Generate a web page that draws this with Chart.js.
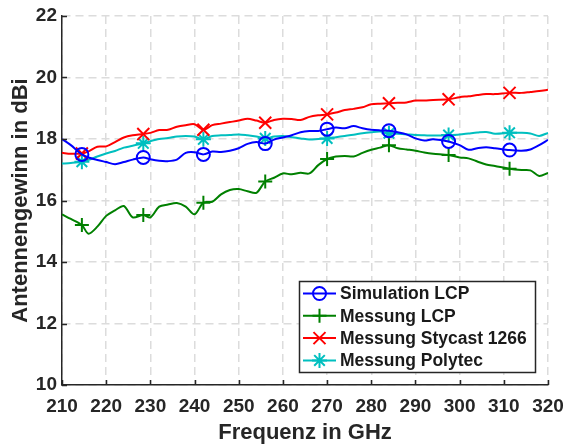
<!DOCTYPE html>
<html>
<head>
<meta charset="utf-8">
<script src="https://cdn.jsdelivr.net/npm/chart.js@4.4.1/dist/chart.umd.min.js"></script>
<style>
  html, body { margin: 0; padding: 0; background: #fff; }
</style>
</head>
<body>
<canvas id="gain" width="568" height="446"></canvas>
<script>
// frequency points (GHz)
const freq = [210, 212, 214.5, 216, 218, 220, 222, 224, 226, 228.4,
              230, 232, 234, 236, 238, 240, 242, 244, 246, 248,
              250, 252, 254, 256, 258, 260, 262, 264, 266, 268,
              270, 272, 274, 276, 278, 280, 282, 284, 286, 288,
              290, 292, 294, 297.5, 300, 302, 304, 306, 308, 311.3,
              314, 316, 318, 320];

// antenna gain (dBi)
const simLCP = [18.0, 17.8, 17.5, 17.4, 17.32, 17.25, 17.18, 17.25, 17.33, 17.4,
                17.34, 17.29, 17.28, 17.33, 17.55, 17.57, 17.5, 17.59, 17.58, 17.62,
                17.7, 17.84, 17.9, 17.85, 17.98, 18.05, 18.12, 18.22, 18.26, 18.26,
                18.32, 18.37, 18.35, 18.42, 18.35, 18.3, 18.28, 18.27, 18.22, 18.15,
                18.02, 17.95, 17.99, 17.92, 17.8, 17.65, 17.7, 17.73, 17.7, 17.64,
                17.62, 17.66, 17.8, 17.97];
const messLCP = [15.55, 15.4, 15.2, 14.92, 15.15, 15.5, 15.68, 15.82, 15.45, 15.53,
                 15.45, 15.8, 15.87, 15.92, 15.8, 15.55, 15.93, 15.96, 16.2, 16.34,
                 16.37, 16.3, 16.25, 16.62, 16.74, 16.88, 16.85, 16.9, 16.88, 17.15,
                 17.35, 17.43, 17.45, 17.43, 17.55, 17.65, 17.72, 17.8, 17.7, 17.66,
                 17.62, 17.56, 17.52, 17.48, 17.4, 17.37, 17.27, 17.17, 17.12, 17.03,
                 16.99, 16.98, 16.8, 16.9];
const messStycast = [17.55, 17.52, 17.53, 17.6, 17.75, 17.76, 17.9, 18.05, 18.12, 18.16,
                     18.2, 18.29, 18.3, 18.4, 18.45, 18.48, 18.3, 18.45, 18.5, 18.55,
                     18.6, 18.66, 18.6, 18.53, 18.62, 18.66, 18.65, 18.62, 18.72, 18.77,
                     18.8, 18.86, 18.94, 18.98, 19.03, 19.13, 19.15, 19.16, 19.18, 19.19,
                     19.25, 19.25, 19.27, 19.29, 19.36, 19.39, 19.43, 19.46, 19.46, 19.5,
                     19.5, 19.53, 19.56, 19.6];
const messPolytec = [17.2, 17.22, 17.26, 17.32, 17.43, 17.53, 17.61, 17.72, 17.78, 17.86,
                     17.93, 18.0, 18.03, 18.08, 18.1, 18.08, 17.99, 18.1, 18.12, 18.13,
                     18.15, 18.12, 18.08, 18.02, 18.08, 18.1, 18.06, 18.02, 17.98, 18.0,
                     18.02, 18.06, 18.1, 18.14, 18.19, 18.22, 18.24, 18.19, 18.17, 18.15,
                     18.13, 18.12, 18.11, 18.13, 18.15, 18.18, 18.21, 18.23, 18.17, 18.2,
                     18.2, 18.18, 18.1, 18.2];

// points that carry a marker
const markerIdx = [2, 9, 16, 23, 30, 37, 43, 49];

const seriesNames = ['Simulation LCP', 'Messung LCP', 'Messung Stycast 1266', 'Messung Polytec'];
const xTicks = [210, 220, 230, 240, 250, 260, 270, 280, 290, 300, 310, 320];
const yTicks = [10, 12, 14, 16, 18, 20, 22];

const FONT = '"Liberation Sans", Arial, sans-serif';

function makeSet(label, values, color, style, size) {
  return {
    label,
    data: freq.map((f, i) => ({ x: f, y: values[i] })),
    borderColor: color,
    backgroundColor: 'transparent',
    borderWidth: 2,
    tension: 0.3,
    pointStyle: style,
    pointRadius: freq.map((f, i) => markerIdx.includes(i) ? size : 0),
    pointBorderColor: color,
    pointBackgroundColor: 'transparent',
    pointBorderWidth: 2,
    markerSize: size
  };
}

// inward tick marks like the original plotting tool
const innerTicks = {
  id: 'innerTicks',
  afterDraw(chart) {
    const { ctx, chartArea: a, scales: { x, y } } = chart;
    ctx.save();
    ctx.strokeStyle = '#262626';
    ctx.lineWidth = 1.5;
    ctx.beginPath();
    xTicks.forEach(v => {
      const px = Math.round(x.getPixelForValue(v)) + 0.5;
      ctx.moveTo(px, a.bottom);
      ctx.lineTo(px, a.bottom - 5);
    });
    yTicks.forEach(v => {
      const py = Math.round(y.getPixelForValue(v)) + 0.5;
      ctx.moveTo(a.left, py);
      ctx.lineTo(a.left + 5, py);
    });
    ctx.stroke();
    ctx.restore();
  }
};

const legendBox = {
  id: 'legendBox',
  afterDraw(chart) {
    const ctx = chart.ctx;
    const x0 = 299, y0 = 281, w = 236, h = 91;
    ctx.save();
    ctx.fillStyle = '#fff';
    ctx.fillRect(x0, y0, w, h);
    ctx.strokeStyle = '#262626';
    ctx.lineWidth = 1.5;
    ctx.strokeRect(x0 + 0.5, y0 + 0.5, w, h);
    chart.data.datasets.forEach((ds, i) => {
      const y = y0 + 12.5 + i * 22.3;
      ctx.strokeStyle = ds.borderColor;
      ctx.lineWidth = 2;
      ctx.beginPath();
      ctx.moveTo(x0 + 4, y);
      ctx.lineTo(x0 + 37, y);
      ctx.stroke();
      ctx.fillStyle = 'transparent';
      Chart.helpers.drawPoint(ctx, { pointStyle: ds.pointStyle, radius: ds.markerSize, borderWidth: 2, rotation: 0 }, x0 + 20.5, y);
      ctx.fillStyle = '#1a1a1a';
      ctx.font = 'bold 17.5px ' + FONT;
      ctx.textBaseline = 'middle';
      ctx.textAlign = 'left';
      ctx.fillText(ds.label, x0 + 41, y + 1);
    });
    ctx.restore();
  }
};

new Chart(document.getElementById('gain'), {
  type: 'line',
  data: {
    datasets: [
      makeSet(seriesNames[0], simLCP, '#0000ff', 'circle', 6.5),
      makeSet(seriesNames[1], messLCP, '#008000', 'cross', 7),
      makeSet(seriesNames[2], messStycast, '#ff0000', 'crossRot', 8.5),
      makeSet(seriesNames[3], messPolytec, '#00bfbf', 'star', 7.5)
    ]
  },
  options: {
    responsive: false,
    animation: false,
    devicePixelRatio: 1,
    layout: { padding: { top: 16, right: 20, left: 0, bottom: 0 } },
    plugins: { legend: { display: false }, tooltip: { enabled: false } },
    scales: {
      x: {
        type: 'linear',
        min: 210,
        max: 320,
        afterBuildTicks: s => { s.ticks = xTicks.map(v => ({ value: v })); },
        afterFit: s => { s.height = 61; s.paddingLeft = 0; s.paddingRight = 0; },
        ticks: { color: '#262626', font: { family: FONT, size: 19, weight: 'bold' }, padding: 10, maxRotation: 0, minRotation: 0 },
        grid: { color: '#dcdcdc', lineWidth: 1.5, drawTicks: false },
        border: { color: '#262626', width: 1.5, dash: [8, 5] },
        title: { display: true, text: 'Frequenz in GHz', color: '#262626', font: { family: FONT, size: 22, weight: 'bold' }, padding: { top: 0, bottom: 0 } }
      },
      y: {
        min: 10,
        max: 22,
        afterBuildTicks: s => { s.ticks = yTicks.map(v => ({ value: v })); },
        afterFit: s => { s.width = 62; s.paddingTop = 0; s.paddingBottom = 0; },
        ticks: { color: '#262626', font: { family: FONT, size: 19, weight: 'bold' }, padding: 5 },
        grid: { color: '#dcdcdc', lineWidth: 1.5, drawTicks: false },
        border: { color: '#262626', width: 1.5, dash: [8, 5] },
        title: { display: true, text: 'Antennengewinn in dBi', color: '#262626', font: { family: FONT, size: 22, weight: 'bold' }, padding: { top: 8, bottom: 0 } }
      }
    }
  },
  plugins: [innerTicks, legendBox]
});
</script>
</body>
</html>
